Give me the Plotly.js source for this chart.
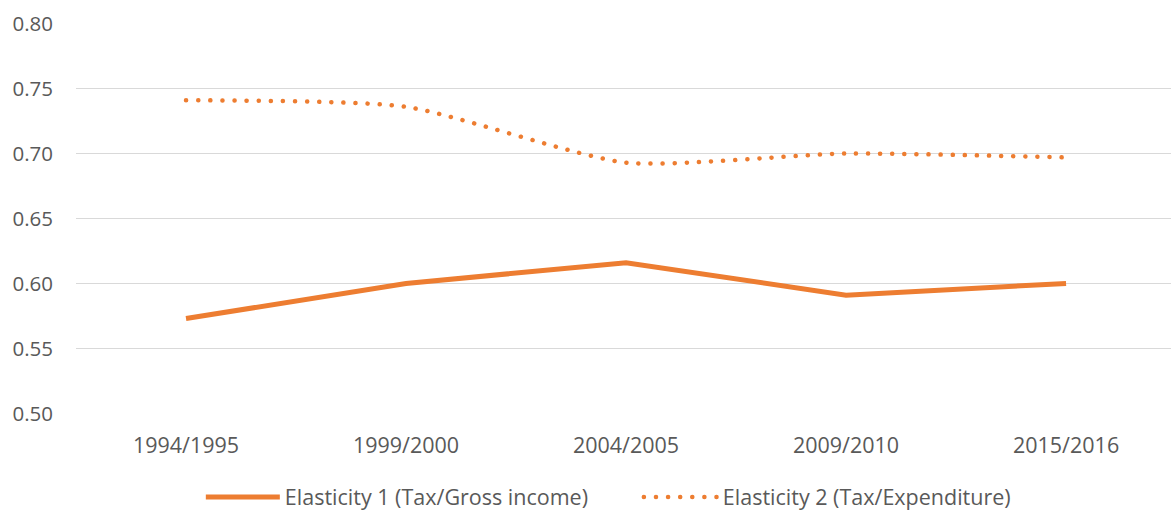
<!DOCTYPE html>
<html>
<head>
<meta charset="utf-8">
<script src="https://cdn.plot.ly/plotly-3.0.1.min.js"></script>
<style>
body{margin:0;padding:0;background:#fff;}
#chart{width:1171px;height:510px;}
.scatterlayer .trace:nth-child(2) .js-line, .legend .traces:nth-child(2) .js-line{stroke-linecap:round;}
</style>
</head>
<body>
<div id="chart"></div>
<script>
const categories = ["1994/1995", "1999/2000", "2004/2005", "2009/2010", "2015/2016"];
const elasticity1 = [0.573, 0.600, 0.616, 0.591, 0.600];
const elasticity2 = [0.741, 0.736, 0.693, 0.700, 0.697];
const yTicks = [0.50, 0.55, 0.60, 0.65, 0.70, 0.75, 0.80];
const seriesNames = ["Elasticity 1 (Tax/Gross income)", "Elasticity 2 (Tax/Expenditure)"];

const orange = "#ED7D31";
const traces = [
  {x: categories, y: elasticity1, name: seriesNames[0], type: "scatter", mode: "lines",
   line: {color: orange, width: 5}},
  {x: categories, y: elasticity2, name: seriesNames[1], type: "scatter", mode: "lines",
   line: {color: orange, width: 4.5, dash: "0.1px,12px", shape: "spline", smoothing: 0.6}}
];
const yfont = {family: "Open Sans, sans-serif", size: 20.5, color: "#595959"};
const xfont = {family: "Open Sans, sans-serif", size: 21.5, color: "#595959"};
const layout = {
  width: 1171, height: 510,
  margin: {l: 76, r: 0, t: 23, b: 95.5},
  paper_bgcolor: "#fff", plot_bgcolor: "#fff",
  font: xfont,
  xaxis: {type: "category", range: [-0.5, 4.477], showgrid: false, zeroline: false,
          showline: false, ticks: "", ticklabelstandoff: 16, tickfont: xfont, fixedrange: true},
  yaxis: {range: [0.4995, 0.8005], tickvals: yTicks, ticktext: yTicks.map(v => v.toFixed(2)),
          showgrid: true, gridcolor: "#d9d9d9", gridwidth: 1.5, zeroline: false, showline: false,
          ticks: "", ticklabelstandoff: 22, tickfont: yfont, fixedrange: true},
  showlegend: true,
  legend: {orientation: "h", x: 0.514, xanchor: "center", yref: "container", y: 0.0255, yanchor: "middle",
           font: xfont, itemwidth: 74, tracegroupgap: 0, entrywidth: 349, entrywidthmode: "pixels"},
};
Plotly.newPlot("chart", traces, layout, {displayModeBar: false, staticPlot: true});
</script>
</body>
</html>
